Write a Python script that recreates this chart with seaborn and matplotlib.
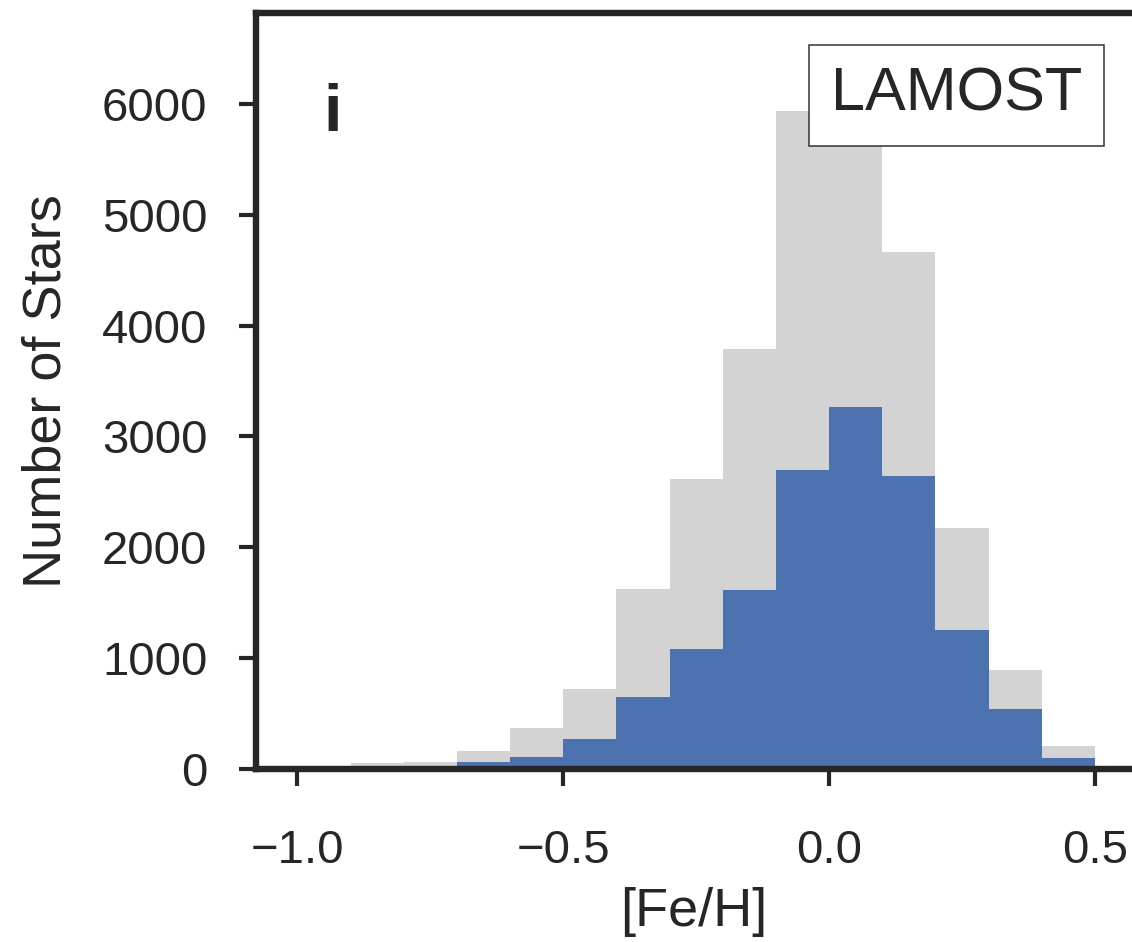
import numpy as np
import pandas as pd
import matplotlib
matplotlib.use("Agg")
import matplotlib.pyplot as plt
import seaborn as sns

# Data
bin_edges = [-1.0, -0.9, -0.8, -0.7, -0.6, -0.5, -0.4, -0.3, -0.2, -0.1,
             0.0, 0.1, 0.2, 0.3, 0.4, 0.5]
all_counts = [0, 50, 65, 165, 370, 720, 1625, 2620, 3790, 5940,
              6150, 4665, 2175, 895, 210]
sub_counts = [0, 0, 0, 60, 105, 270, 650, 1085, 1615, 2700,
              3270, 2645, 1255, 540, 95]
xticks = [-1.0, -0.5, 0.0, 0.5]
xticklabels = ["\u22121.0", "\u22120.5", "0.0", "0.5"]
yticks = [0, 1000, 2000, 3000, 4000, 5000, 6000]

centers = [(a + b) / 2 for a, b in zip(bin_edges[:-1], bin_edges[1:])]
df_all = pd.DataFrame({"feh": centers, "n": all_counts})
df_sub = pd.DataFrame({"feh": centers, "n": sub_counts})

sns.set_theme(style="ticks")
plt.rcParams["font.family"] = ["Liberation Sans", "DejaVu Sans"]

W, H = 1132, 942
fig = plt.figure(figsize=(W / 100, H / 100), dpi=100)
ax = fig.add_axes([256 / W, 1 - 769 / H, 1 - 256 / W, (769 - 13) / H])

sns.histplot(data=df_all, x="feh", weights="n", bins=bin_edges, ax=ax,
             color="#d3d3d3", alpha=1, linewidth=0, element="bars")
sns.histplot(data=df_sub, x="feh", weights="n", bins=bin_edges, ax=ax,
             color="#4c72b0", alpha=1, linewidth=0, element="bars")

ax.set_xlim(-1.078, 0.5696)
ax.set_ylim(0, 6820)
ax.set_xticks(xticks)
ax.set_xticklabels(xticklabels)
ax.set_yticks(yticks)
ax.tick_params(axis="both", labelsize=34, length=12, width=3,
               color="#262626", labelcolor="#262626")
ax.tick_params(axis="x", pad=31)
ax.tick_params(axis="y", pad=23)
ax.set_xlabel("[Fe/H]", fontsize=39, color="#262626", labelpad=10)
ax.set_ylabel("Number of Stars", fontsize=39, color="#262626", labelpad=22)

for side in ["left", "bottom", "top"]:
    ax.spines[side].set_visible(True)
    ax.spines[side].set_linewidth(4.6)
    ax.spines[side].set_color("#262626")
ax.spines["right"].set_visible(False)

ax.text(0.0879, 0.866, "i", transform=ax.transAxes, fontsize=48,
        fontweight="bold", color="#262626", ha="center", va="center")
fig.text(956.5 / W, 1 - 95 / H, "LAMOST", fontsize=44,
         color="#262626", ha="center", va="center", zorder=10,
         bbox=dict(boxstyle="square,pad=0.36", facecolor="white",
                   edgecolor="#333333", linewidth=1.1))

fig.savefig("out.png", dpi=100)
